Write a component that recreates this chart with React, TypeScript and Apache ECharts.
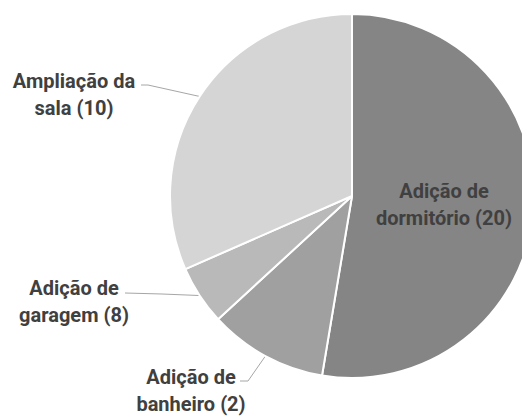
import React, { useEffect, useRef } from "react";
import * as echarts from "echarts";

// Slice labels as printed in the reference
const categories = [
  "Adição de\ndormitório (20)",
  "Adição de\nbanheiro (2)",
  "Adição de\ngaragem (8)",
  "Ampliação da\nsala (10)",
];
// Slice sizes
const sliceValues = [20, 4, 2, 12];
const sliceColors = ["#858585", "#a0a0a0", "#b9b9b9", "#d5d5d5"];

export default function App() {
  const ref = useRef<HTMLDivElement>(null);

  useEffect(() => {
    document.body.style.margin = "0";
    const chart = echarts.init(ref.current!, null, { renderer: "svg" });

    const labelPos = [
      { x: 444, y: 204 },
      { x: 191, y: 390 },
      { x: 74, y: 301 },
      { x: 74, y: 94 },
    ];
    const lineTails: (number[][] | null)[] = [
      null,
      [[248, 381], [240, 381]],
      [[162, 294], [125, 293]],
      [[148, 85], [141, 85]],
    ];

    const cx = 352, cy = 196, r = 182;
    const total = sliceValues.reduce((a, b) => a + b, 0);
    const edgePoint = (i: number) => {
      let acc = 0;
      for (let k = 0; k < i; k++) acc += sliceValues[k];
      const mid = ((acc + sliceValues[i] / 2) / total) * Math.PI * 2;
      return [cx + r * Math.sin(mid), cy - r * Math.cos(mid)];
    };

    chart.setOption({
      animation: false,
      series: [
        {
          type: "pie",
          center: [cx, cy],
          radius: r,
          startAngle: 90,
          clockwise: true,
          silent: true,
          emphasis: { disabled: true },
          itemStyle: { borderColor: "#ffffff", borderWidth: 2 },
          label: {
            show: true,
            formatter: (p: any) => p.name,
            fontFamily: "Roboto, sans-serif",
            fontWeight: "bold",
            fontSize: 20,
            lineHeight: 27,
            color: "#404040",
            align: "center",
          },
          labelLine: {
            show: true,
            lineStyle: { color: "#a6a6a6", width: 1 },
          },
          labelLayout: (params: any) => {
            const i = params.dataIndex;
            const res: any = {
              x: labelPos[i].x,
              y: labelPos[i].y,
              align: "center",
              verticalAlign: "middle",
            };
            if (lineTails[i]) {
              res.labelLinePoints = [edgePoint(i), ...lineTails[i]!];
            }
            return res;
          },
          data: categories.map((name, i) => ({
            name,
            value: sliceValues[i],
            itemStyle: { color: sliceColors[i] },
            ...(i === 0
              ? { label: { position: "inside" }, labelLine: { show: false } }
              : {}),
          })),
        },
      ],
    });

    return () => chart.dispose();
  }, []);

  return (
    <div
      ref={ref}
      style={{ position: "absolute", left: 0, top: 0, width: 522, height: 417 }}
    />
  );
}
